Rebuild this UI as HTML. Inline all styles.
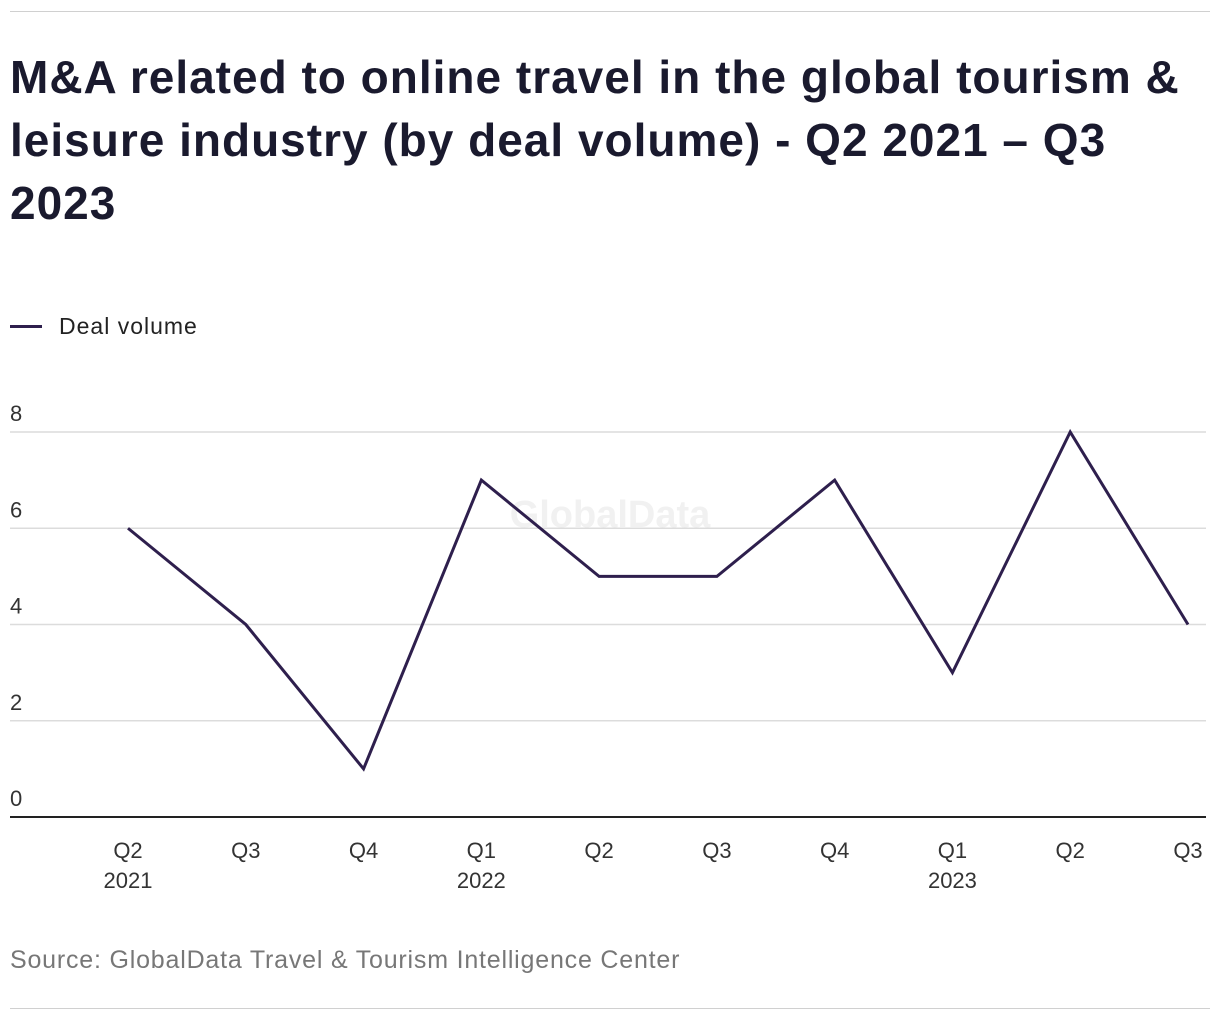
<!DOCTYPE html>
<html><head><meta charset="utf-8"><style>
body{margin:0;width:1220px;height:1020px;background:#fff;font-family:"Liberation Sans",sans-serif;position:relative;overflow:hidden}
.rule{position:absolute;left:10px;width:1200px;height:1px;background:#d0d0d0}
h1{position:absolute;left:10px;top:46px;margin:0;width:1210px;font-size:46px;line-height:63px;font-weight:bold;color:#1a1a2e;letter-spacing:1px;white-space:nowrap}
</style></head><body>
<div class="rule" style="top:11px"></div>
<h1>M&amp;A related to online travel in the global tourism &amp;<br>leisure industry (by deal volume) - Q2 2021 – Q3<br>2023</h1>
<div style="position:absolute;left:10px;top:313px;font-size:23px;letter-spacing:1px;color:#222;display:flex;align-items:center">
<span style="display:inline-block;width:32px;height:3px;background:#2e1f4d;margin-right:17px"></span>Deal volume</div>
<svg id="chart" width="1220" height="1020" style="position:absolute;left:0;top:0"></svg>
<div style="position:absolute;left:10px;top:946px;font-size:25px;letter-spacing:0.8px;color:#777">Source: GlobalData Travel &amp; Tourism Intelligence Center</div>
<div class="rule" style="top:1008px"></div>
<script>
const quarters=["Q2","Q3","Q4","Q1","Q2","Q3","Q4","Q1","Q2","Q3"];
const years=["2021","","","2022","","","","2023","",""];
const dealVolume=[6,4,1,7,5,5,7,3,8,4];
const yTicks=[0,2,4,6,8];
const NS="http://www.w3.org/2000/svg";
const svg=document.getElementById("chart");
const y=v=>817-v*(817-432)/8;
const x=i=>128+i*(1188-128)/(quarters.length-1);
function mk(t,a){const e=document.createElementNS(NS,t);for(const k in a)e.setAttribute(k,a[k]);svg.appendChild(e);return e;}
const wm=mk("text",{x:610,y:527,"font-size":38,"font-weight":"bold","text-anchor":"middle",fill:"#f1f1f1"});
wm.textContent="GlobalData";


yTicks.forEach(t=>{
 const l=mk("line",{x1:10,x2:1206,y1:y(t),y2:y(t),stroke:t===0?"#222":"#dcdcdc","stroke-width":t===0?2:1.5});
 
 
 const tx=mk("text",{x:10,y:y(t)-11,"font-size":22,fill:"#333"});
 tx.textContent=t;
 
 
});
quarters.forEach((q,i)=>{
 const t=mk("text",{x:x(i),y:858,"font-size":22,fill:"#333","text-anchor":"middle"});
 t.textContent=q;
 
 
 if(years[i]){const t2=mk("text",{x:x(i),y:888,"font-size":22,fill:"#333","text-anchor":"middle"});
 t2.textContent=years[i];
 
 }
});
const p=mk("polyline",{points:dealVolume.map((v,i)=>x(i)+","+y(v)).join(" "),fill:"none",stroke:"#2e1f4d","stroke-width":3,"stroke-linejoin":"miter"});


</script>
</body></html>
